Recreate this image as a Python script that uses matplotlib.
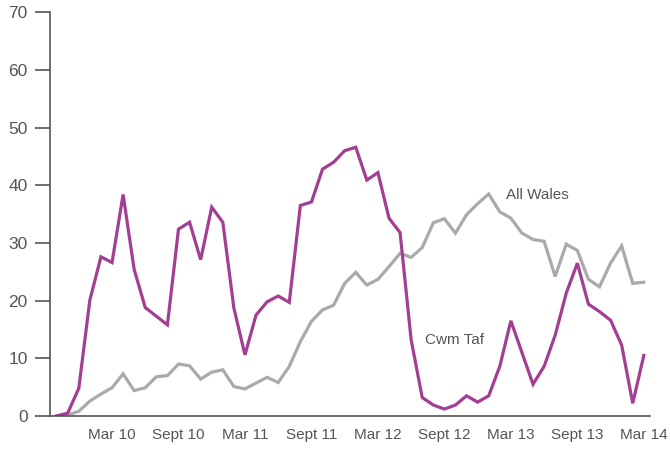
import matplotlib
matplotlib.use("Agg")
import matplotlib.pyplot as plt

plt.rcParams["font.family"] = ["Liberation Sans", "DejaVu Sans"]

# Monthly series, Oct 2009 to Mar 2014
cwm_taf = [0.0, 0.5, 4.8, 20.1, 27.6, 26.6, 38.4, 25.4, 18.8, 17.3,
           15.8, 32.4, 33.6, 27.1, 36.2, 33.6, 18.7, 10.6, 17.5, 19.8,
           20.8, 19.7, 36.5, 37.1, 42.8, 44.0, 46.0, 46.6, 40.9, 42.2,
           34.3, 31.8, 13.2, 3.2, 1.9, 1.2, 1.9, 3.5, 2.4, 3.5,
           8.6, 16.5, 11.0, 5.5, 8.6, 14.0, 21.3, 26.5, 19.4, 18.1,
           16.6, 12.3, 2.2, 10.5]
all_wales = [0.0, 0.2, 0.8, 2.6, 3.8, 4.9, 7.3, 4.4, 4.9, 6.8,
             7.0, 9.0, 8.7, 6.4, 7.6, 8.0, 5.1, 4.7, 5.7, 6.7,
             5.8, 8.6, 12.9, 16.4, 18.4, 19.2, 23.0, 24.9, 22.7, 23.7,
             25.9, 28.2, 27.5, 29.2, 33.5, 34.2, 31.7, 34.9, 36.8, 38.5,
             35.4, 34.3, 31.7, 30.6, 30.3, 24.2, 29.8, 28.7, 23.7, 22.4,
             26.5, 29.5, 23.0, 23.2]
tick_pos = [5, 11, 17, 23, 29, 35, 41, 47, 53]
tick_labels = ["Mar 10", "Sept 10", "Mar 11", "Sept 11", "Mar 12",
               "Sept 12", "Mar 13", "Sept 13", "Mar 14"]

PURPLE = "#a23f93"
GREY = "#aaaaaa"
TEXT = "#555555"

fig = plt.figure(figsize=(6.7, 4.5), dpi=100)
ax = fig.add_axes([0.0746, 0.0756, 0.8954, 0.8971])

x = range(len(cwm_taf))
ax.plot(x, all_wales, color=GREY, linewidth=2.3, solid_joinstyle="miter")
ax.plot(x, cwm_taf, color=PURPLE, linewidth=2.3, solid_joinstyle="miter")

ax.set_xlim(-0.6, 53.55)
ax.set_ylim(0, 70)
ax.set_yticks(range(0, 71, 10))
ax.set_xticks(tick_pos)
ax.set_xticklabels(tick_labels)

for side in ["top", "right"]:
    ax.spines[side].set_visible(False)
for side in ["left", "bottom"]:
    ax.spines[side].set_color(TEXT)
    ax.spines[side].set_linewidth(1.2)

ax.tick_params(axis="y", length=11, width=1.2, color=TEXT,
               labelcolor=TEXT, labelsize=12.5, pad=5)
ax.tick_params(axis="x", length=0, labelcolor=TEXT, labelsize=11, pad=9)

ax.text(40.55, 38.3, "All Wales", color=TEXT, fontsize=11, ha="left", va="center")
ax.text(33.25, 13.2, "Cwm Taf", color=TEXT, fontsize=11, ha="left", va="center")

fig.savefig("out.png", dpi=100)
